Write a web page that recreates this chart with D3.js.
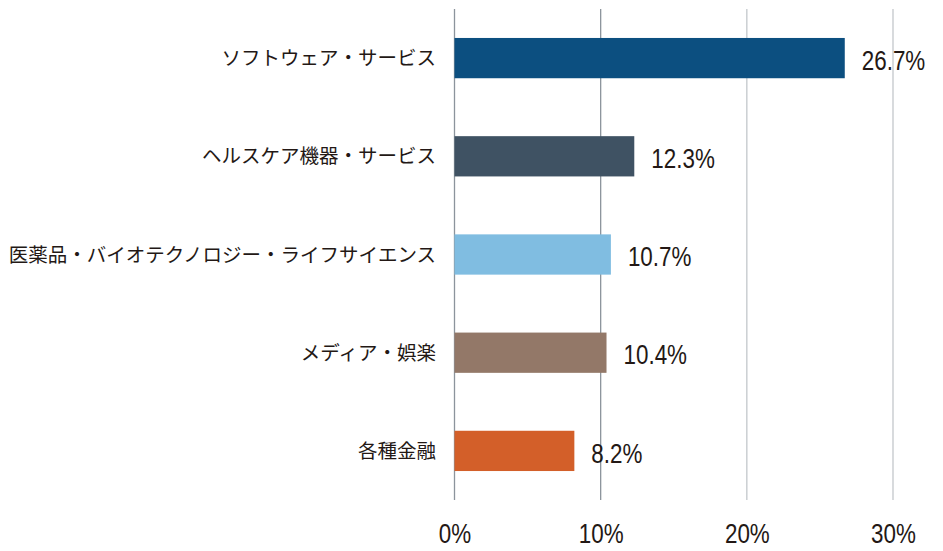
<!DOCTYPE html>
<html><head><meta charset="utf-8">
<script src="https://cdn.jsdelivr.net/npm/d3@7"></script>
<style>
html,body{margin:0;padding:0;background:#fff;}
svg{display:block;}
</style></head>
<body>
<svg id="chart" width="943" height="551"></svg>
<script>
const categories = ["ソフトウェア・サービス","ヘルスケア機器・サービス","医薬品・バイオテクノロジー・ライフサイエンス","メディア・娯楽","各種金融"];
const values = [26.7, 12.3, 10.7, 10.4, 8.2];
const valueLabels = ["26.7%","12.3%","10.7%","10.4%","8.2%"];
const colors = ["#0c4f80","#3f5263","#80bde1","#937868","#d35f29"];
const tickValues = [0,10,20,30];
const tickLabels = ["0%","10%","20%","30%"];
const gridColors = ["#8c949c","#8c949c","#c3c7cb","#c3c7cb"];

const svg = d3.select("#chart");
const x = d3.scaleLinear().domain([0,30]).range([454.5,893]);
const y = d3.scaleBand().domain(categories).range([9,500]).paddingInner(0.59).paddingOuter(0.295);

const numFont = "'Liberation Sans','Arial',sans-serif";
const jpFont = "'Noto Sans CJK JP','Noto Sans CJK SC',sans-serif";
const textColor = "#231815";
const condense = 0.83;

// gridlines
svg.append("g").selectAll("line").data(tickValues).join("line")
  .attr("x1", d=>x(d)).attr("x2", d=>x(d))
  .attr("y1", 9).attr("y2", 500)
  .attr("stroke", (d,i)=>gridColors[i]).attr("stroke-width", 1.3);

// bars
svg.append("g").selectAll("rect").data(values).join("rect")
  .attr("x", x(0))
  .attr("y", (d,i)=>y(categories[i]))
  .attr("width", d=>x(d)-x(0))
  .attr("height", y.bandwidth())
  .attr("fill", (d,i)=>colors[i]);

// value labels (condensed)
svg.append("g").selectAll("text").data(values).join("text")
  .attr("transform", (d,i)=>`translate(${x(d)+17},${y(categories[i])+y.bandwidth()/2+2}) scale(${condense},1)`)
  .attr("dy","0.36em")
  .attr("font-family", numFont).attr("font-size", 27)
  .attr("fill", textColor)
  .text((d,i)=>valueLabels[i]);

// category labels
svg.append("g").selectAll("text").data(categories).join("text")
  .attr("x", 436)
  .attr("y", d=>y(d)+y.bandwidth()/2)
  .attr("dy","0.36em")
  .attr("text-anchor","end")
  .attr("font-family", jpFont).attr("font-size", 19.5)
  .attr("fill", textColor)
  .text(d=>d);

// x axis tick labels
const xAxis = d3.axisBottom(x).tickValues(tickValues).tickFormat((d,i)=>tickLabels[i]).tickSize(0).tickPadding(0);
const ax = svg.append("g").attr("transform","translate(0,524)").call(xAxis);
ax.select(".domain").remove();
ax.selectAll(".tick text")
  .attr("transform", `scale(${condense},1)`)
  .attr("font-family", numFont).attr("font-size", 27).attr("fill", textColor).attr("dy","0.72em");
</script>
</body></html>
